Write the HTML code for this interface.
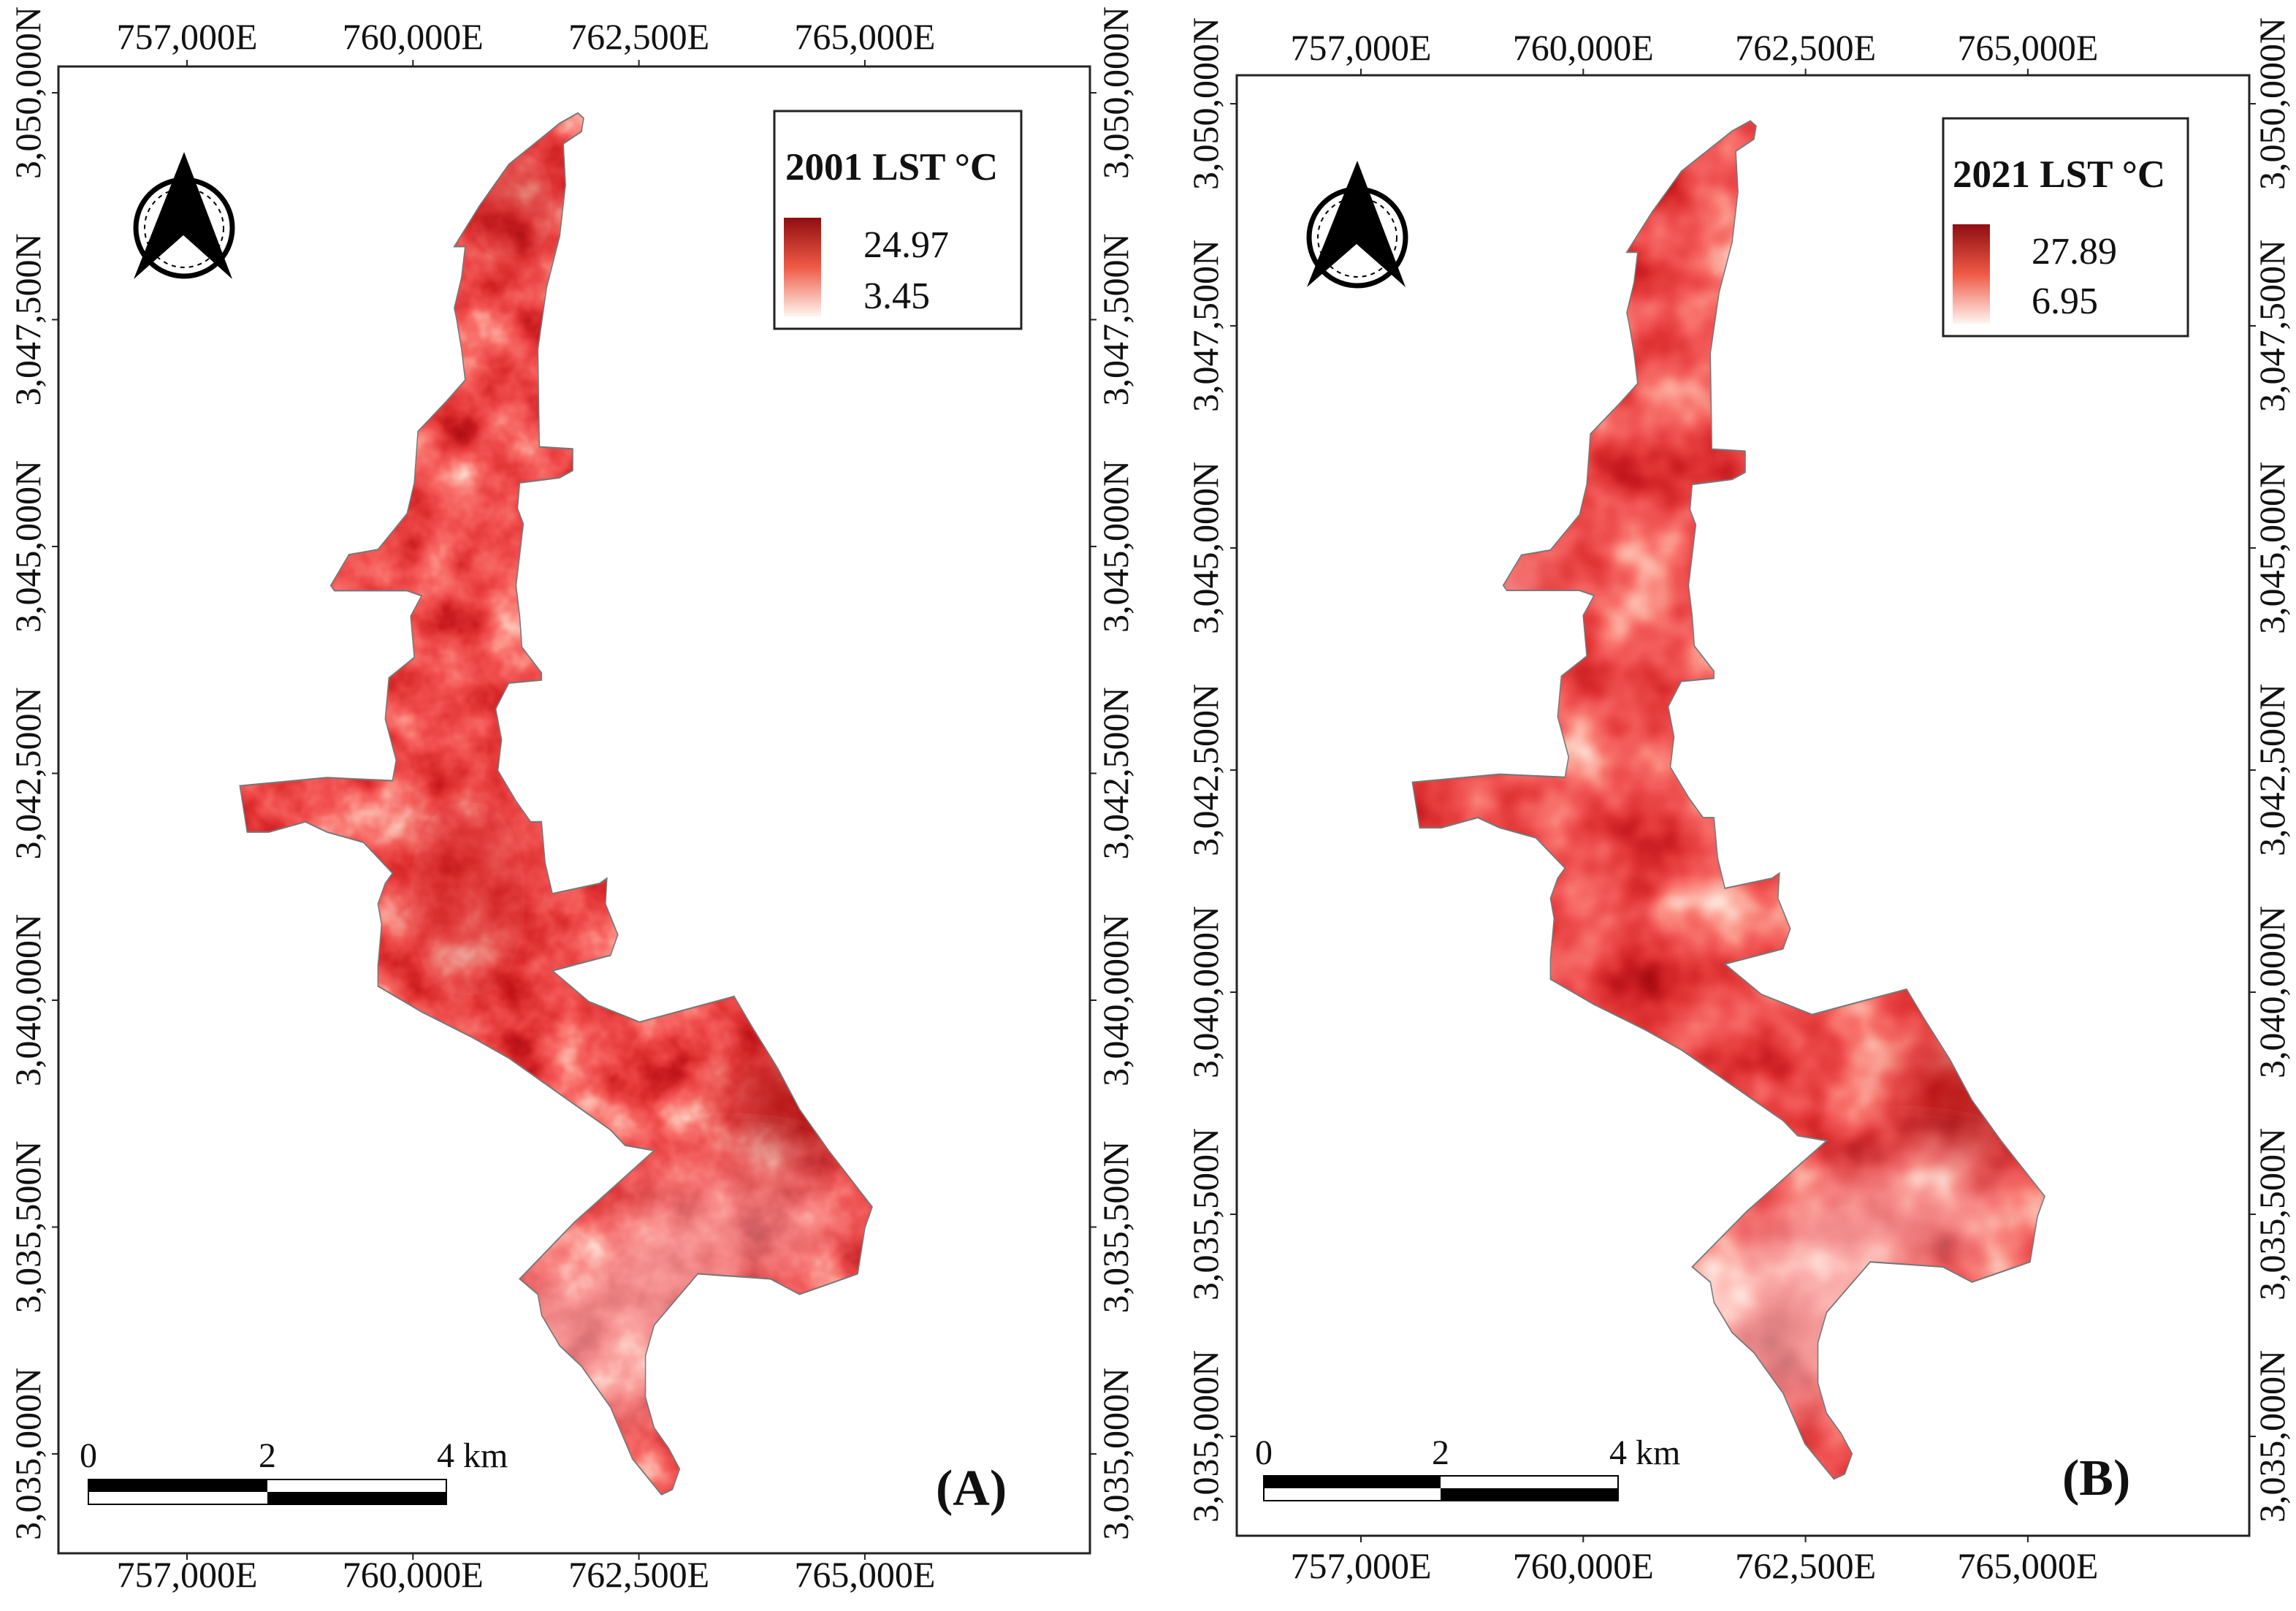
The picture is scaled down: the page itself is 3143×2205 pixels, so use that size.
<!DOCTYPE html>
<html><head><meta charset="utf-8"><style>
html,body{margin:0;padding:0;background:#fff}
svg{display:block}
text{font-family:"Liberation Serif",serif;fill:#111}
</style></head><body>
<svg id="fig" width="3143" height="2205" viewBox="0 0 3143 2205" xmlns="http://www.w3.org/2000/svg">
<defs>
<filter id="heat" filterUnits="userSpaceOnUse" x="0" y="0" width="3143" height="2205" color-interpolation-filters="sRGB">
  <feTurbulence type="fractalNoise" baseFrequency="0.012" numOctaves="4" seed="7" result="n"/>
  <feColorMatrix in="n" type="matrix" values="1 0 0 0 0 1 0 0 0 0 1 0 0 0 0 0 0 0 0 1"/>
  <feComponentTransfer>
    <feFuncR type="table" tableValues="1 1 0.99 0.97 0.94 0.88 0.78 0.66 0.55"/>
    <feFuncG type="table" tableValues="0.95 0.85 0.62 0.42 0.3 0.2 0.1 0.05 0.03"/>
    <feFuncB type="table" tableValues="0.92 0.8 0.58 0.4 0.3 0.2 0.12 0.07 0.05"/>
  </feComponentTransfer>
</filter>
<filter id="heat2" filterUnits="userSpaceOnUse" x="0" y="0" width="3143" height="2205" color-interpolation-filters="sRGB">
  <feTurbulence type="fractalNoise" baseFrequency="0.01" numOctaves="3" seed="21" result="n"/>
  <feColorMatrix in="n" type="matrix" values="1 0 0 0 0 1 0 0 0 0 1 0 0 0 0 0 0 0 0 1"/>
  <feComponentTransfer>
    <feFuncR type="table" tableValues="1 1 0.99 0.97 0.94 0.89 0.8 0.68 0.58"/>
    <feFuncG type="table" tableValues="0.95 0.86 0.65 0.45 0.32 0.22 0.12 0.06 0.04"/>
    <feFuncB type="table" tableValues="0.92 0.82 0.6 0.42 0.32 0.22 0.14 0.08 0.06"/>
  </feComponentTransfer>
</filter>
<filter id="blur" x="-50%" y="-50%" width="200%" height="200%"><feGaussianBlur stdDeviation="40"/></filter>
<clipPath id="clipA" clipPathUnits="userSpaceOnUse"><use href="#shape" transform="matrix(0.995,0,0,1.406,0,0)"/></clipPath>
<clipPath id="clipB" clipPathUnits="userSpaceOnUse"><use href="#shape" transform="matrix(0.995,0,0,1.382,1605,13.5)"/></clipPath>
<polygon id="shape" points="795,110 803,115 800,128 775,140 778,180 770,230 752,280 740,340 742,435 788,437 788,458 770,465 715,470 712,495 720,510 710,570 715,600 718,630 745,655 745,662 700,665 682,690 690,720 685,750 710,780 730,800 745,800 750,840 760,870 825,860 835,855 833,880 850,910 840,930 760,945 785,960 810,975 880,995 1010,970 1035,1000 1070,1040 1100,1080 1140,1120 1200,1175 1190,1195 1180,1240 1100,1260 1060,1245 960,1240 900,1290 888,1320 888,1360 900,1390 920,1410 935,1430 925,1450 910,1455 870,1420 840,1370 800,1330 770,1310 745,1280 740,1260 715,1245 790,1190 900,1120 860,1115 840,1100 760,1060 700,1030 650,1010 580,985 520,960 520,940 525,900 520,880 530,860 540,850 500,820 450,810 420,800 370,810 340,810 330,765 450,757 540,760 545,740 530,700 535,660 570,640 565,600 580,580 560,575 460,575 455,570 480,540 520,535 560,500 570,470 575,420 615,390 640,370 635,340 628,310 625,300 635,270 640,240 625,240 660,200 700,160 770,120"/>
<linearGradient id="rampA" x1="0" y1="1" x2="0" y2="0"><stop offset="0" stop-color="#fff5f0"/><stop offset="0.5" stop-color="#ef5a45"/><stop offset="1" stop-color="#8f0d12"/></linearGradient>
</defs>

<g>
  <rect x="80" y="91" width="1412" height="2035" fill="#fff" stroke="#222" stroke-width="3"/>
  <g clip-path="url(#clipA)">
    <rect x="80" y="91" width="1412" height="2035" filter="url(#heat)"/>
    <g filter="url(#blur)">
      <ellipse cx="840" cy="1830" rx="170" ry="120" fill="#fff" opacity="0.4"/>
      <ellipse cx="1000" cy="1680" rx="160" ry="70" fill="#fff" opacity="0.35"/>
      <ellipse cx="1080" cy="1510" rx="70" ry="70" fill="#900" opacity="0.7"/>
      <ellipse cx="700" cy="280" rx="60" ry="80" fill="#b31010" opacity="0.45"/>
      <ellipse cx="640" cy="1230" rx="80" ry="140" fill="#c41a1a" opacity="0.35"/>
    </g>
  </g>
  <use href="#shape" transform="matrix(0.995,0,0,1.406,0,0)" fill="none" stroke="#777" stroke-width="1.5" vector-effect="non-scaling-stroke"/>
  <g>
    <rect x="1060" y="152" width="338" height="298" fill="#fff" stroke="#222" stroke-width="3"/>
    <text x="1075" y="246" font-size="53" font-weight="bold">2001 LST °C</text>
    <rect x="1073" y="298" width="51" height="135" fill="url(#rampA)"/>
    <text id="legA1" x="1182" y="352" font-size="52"></text>
    <text id="legA2" x="1182" y="422" font-size="52"></text>
  </g>
  <g>
    <circle cx="252" cy="312" r="66" fill="none" stroke="#000" stroke-width="7"/>
    <circle cx="252" cy="312" r="54" fill="none" stroke="#000" stroke-width="2" stroke-dasharray="6 6"/>
    <polygon points="252,208 183,382 251,322 318,382" fill="#000"/>
  </g>
  <g>
    <rect x="121" y="2025" width="490" height="34" fill="#fff" stroke="#000" stroke-width="2"/>
    <rect x="121" y="2025" width="245" height="17" fill="#000"/>
    <rect x="366" y="2042" width="245" height="17" fill="#000"/>
    <text x="121" y="2008" font-size="48" text-anchor="middle">0</text>
    <text x="366" y="2008" font-size="48" text-anchor="middle">2</text>
    <text x="598" y="2008" font-size="48">4 km</text>
  </g>
  <text x="1281" y="2060" font-size="70" font-weight="bold">(A)</text>
</g>

<g>
  <rect x="1693" y="103" width="1386" height="1999" fill="#fff" stroke="#222" stroke-width="3"/>
  <g clip-path="url(#clipB)">
    <rect x="1693" y="103" width="1386" height="1999" filter="url(#heat2)"/>
    <g filter="url(#blur)">
      <ellipse cx="2440" cy="1810" rx="170" ry="120" fill="#fff" opacity="0.45"/>
      <ellipse cx="2600" cy="1670" rx="160" ry="70" fill="#fff" opacity="0.35"/>
      <ellipse cx="2690" cy="1500" rx="70" ry="70" fill="#900" opacity="0.65"/>
      <ellipse cx="2050" cy="840" rx="50" ry="80" fill="#fff" opacity="0.35"/>
    </g>
  </g>
  <use href="#shape" transform="matrix(0.995,0,0,1.382,1605,13.5)" fill="none" stroke="#777" stroke-width="1.5" vector-effect="non-scaling-stroke"/>
  <g>
    <rect x="2660" y="162" width="335" height="298" fill="#fff" stroke="#222" stroke-width="3"/>
    <text x="2673" y="256" font-size="53" font-weight="bold">2021 LST °C</text>
    <rect x="2673" y="307" width="51" height="136" fill="url(#rampA)"/>
    <text id="legB1" x="2781" y="361" font-size="52"></text>
    <text id="legB2" x="2781" y="429" font-size="52"></text>
  </g>
  <g>
    <circle cx="1858" cy="325" r="66" fill="none" stroke="#000" stroke-width="7"/>
    <circle cx="1858" cy="325" r="54" fill="none" stroke="#000" stroke-width="2" stroke-dasharray="6 6"/>
    <polygon points="1858,220 1789,393 1857,334 1924,393" fill="#000"/>
  </g>
  <g>
    <rect x="1730" y="2020" width="485" height="34" fill="#fff" stroke="#000" stroke-width="2"/>
    <rect x="1730" y="2020" width="242" height="17" fill="#000"/>
    <rect x="1972" y="2037" width="243" height="17" fill="#000"/>
    <text x="1730" y="2004" font-size="48" text-anchor="middle">0</text>
    <text x="1972" y="2004" font-size="48" text-anchor="middle">2</text>
    <text x="2203" y="2004" font-size="48">4 km</text>
  </g>
  <text x="2823" y="2046" font-size="70" font-weight="bold">(B)</text>
</g>
<g id="axes"></g>
</svg>
<script>
const eastLabels = ["757,000E","760,000E","762,500E","765,000E"];
const northLabels = ["3,050,000N","3,047,500N","3,045,000N","3,042,500N","3,040,000N","3,035,500N","3,035,000N"];
const legendA = ["24.97","3.45"];
const legendB = ["27.89","6.95"];
document.getElementById('legA1').textContent = legendA[0];
document.getElementById('legA2').textContent = legendA[1];
document.getElementById('legB1').textContent = legendB[0];
document.getElementById('legB2').textContent = legendB[1];

const NS = "http://www.w3.org/2000/svg";
const axes = document.getElementById('axes');
function mk(tag, attrs, txt){
  const e = document.createElementNS(NS, tag);
  for (const k in attrs) e.setAttribute(k, attrs[k]);
  if (txt !== undefined) e.textContent = txt;
  axes.appendChild(e);
  return e;
}
const panels = [
  {id:"a", x0:80, x1:1492, y0:91, y1:2126, tx0:256, tstep:309.3, ty0:127, tystep:310.5, topBase:67, botBase:2172, leftX:38, rightX:1527},
  {id:"b", x0:1693, x1:3079, y0:103, y1:2102, tx0:1863, tstep:304.3, ty0:142, tystep:304, topBase:82, botBase:2160, leftX:1650, rightX:3110}
];
function xTick(p, i){ return p.tx0 + i * p.tstep; }
function yTick(p, i){ return p.ty0 + i * p.tystep; }
panels.forEach(p => {
  eastLabels.forEach((lab, i) => {
    const x = xTick(p, i);
    let l = mk('line', {x1:x, x2:x, y1:p.y0-9, y2:p.y0, stroke:'#222', 'stroke-width':2});
    
    
    l = mk('line', {x1:x, x2:x, y1:p.y1, y2:p.y1+9, stroke:'#222', 'stroke-width':2});
    
    
    let t = mk('text', {x:x, y:p.topBase, 'font-size':50, 'text-anchor':'middle'}, lab);
    
    
    t = mk('text', {x:x, y:p.botBase, 'font-size':50, 'text-anchor':'middle'}, lab);
    
    
  });
  northLabels.forEach((lab, i) => {
    const y = yTick(p, i);
    let l = mk('line', {x1:p.x0-9, x2:p.x0, y1:y, y2:y, stroke:'#222', 'stroke-width':2});
    
    
    l = mk('line', {x1:p.x1, x2:p.x1+9, y1:y, y2:y, stroke:'#222', 'stroke-width':2});
    
    
    let t = mk('text', {transform:`translate(${p.leftX},${y}) rotate(-90)`, 'font-size':50, 'text-anchor':'middle', 'dominant-baseline':'central'}, lab);
    
    
    t = mk('text', {transform:`translate(${p.rightX},${y}) rotate(-90)`, 'font-size':50, 'text-anchor':'middle', 'dominant-baseline':'central'}, lab);
    
    
  });
});
</script>
</body></html>
